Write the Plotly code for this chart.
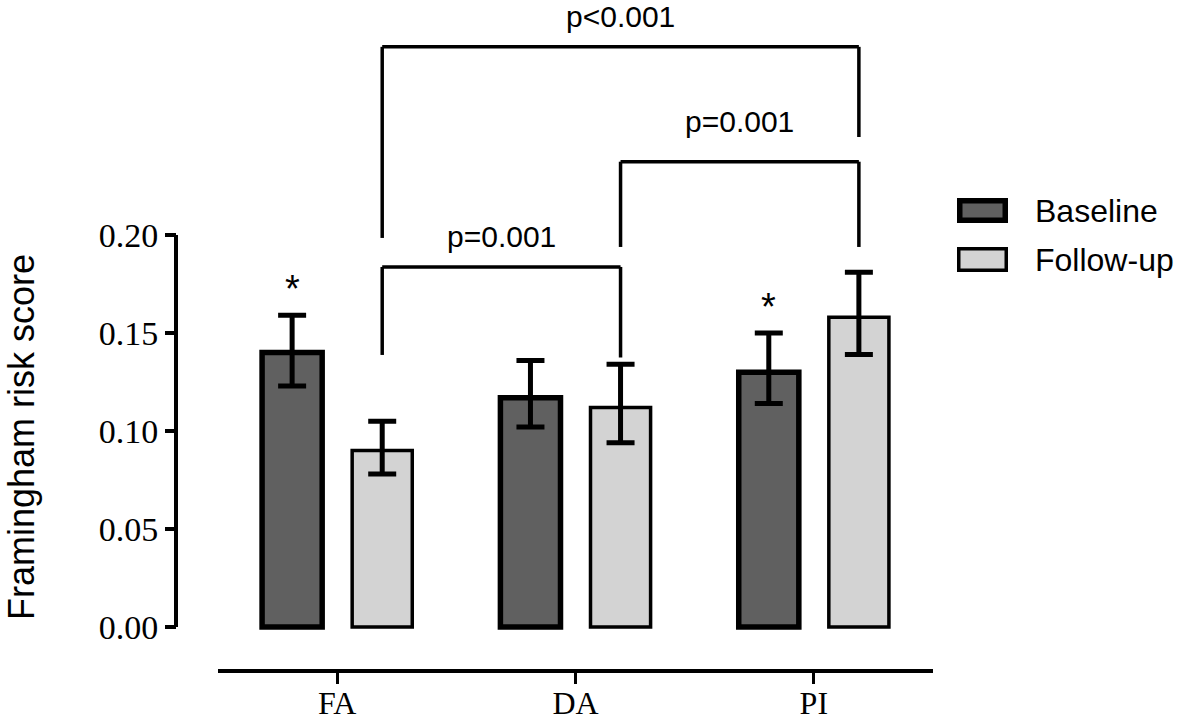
import plotly.graph_objects as go

# ---- data ----
categories = ["FA", "DA", "PI"]
baseline = [0.140, 0.117, 0.130]
baseline_err_plus = [0.019, 0.019, 0.020]
baseline_err_minus = [0.017, 0.015, 0.016]
followup = [0.090, 0.112, 0.158]
followup_err_plus = [0.015, 0.022, 0.023]
followup_err_minus = [0.012, 0.018, 0.019]
star_baseline = [True, False, True]
y_ticks = [0.00, 0.05, 0.10, 0.15, 0.20]

# comparisons between Follow-up bars: (left category, right category, label)
comparisons = [
    ("FA", "DA", "p=0.001"),
    ("DA", "PI", "p=0.001"),
    ("FA", "PI", "p<0.001"),
]

# ---- layout geometry ----
W, H = 1181, 722
ML, MR, MT, MB = 0, 0, 10, 53
PLOT_H = H - MT - MB
BARGAP = 0.244
BARGROUPGAP = 0.333
slot = (1 - BARGAP) / 2
offset = slot / 2  # centre offset of each bar within its category


def px(x):
    return x / W


def py(y):
    return (H - MB - y) / PLOT_H


SANS = "Liberation Sans, Arial, sans-serif"
SERIF = "Liberation Serif, Times New Roman, serif"

fig = go.Figure()
fig.add_trace(go.Bar(
    name="Baseline", x=categories, y=baseline,
    marker=dict(color="#606060", line=dict(color="black", width=5.5)),
    error_y=dict(type="data", symmetric=False, array=baseline_err_plus,
                 arrayminus=baseline_err_minus, color="black", thickness=5, width=14),
    showlegend=False,
))
fig.add_trace(go.Bar(
    name="Follow-up", x=categories, y=followup,
    marker=dict(color="#d3d3d3", line=dict(color="black", width=3.5)),
    error_y=dict(type="data", symmetric=False, array=followup_err_plus,
                 arrayminus=followup_err_minus, color="black", thickness=5, width=14),
    showlegend=False,
))

shapes = []
annotations = []

# y axis line (0 to 0.20 only)
shapes.append(dict(type="line", xref="paper", yref="y", x0=px(176), x1=px(176),
                   y0=y_ticks[0], y1=y_ticks[-1], line=dict(color="black", width=4)))

# significance stars above baseline bars
for i, flag in enumerate(star_baseline):
    if flag:
        annotations.append(dict(
            x=i - offset, y=baseline[i] + baseline_err_plus[i] + 0.0135, xref="x", yref="y",
            text="*", showarrow=False, font=dict(family=SANS, size=38, color="black"),
            yanchor="middle", xanchor="center"))

# brackets
bracket_levels = {
    ("FA", "DA"): (0.1837, 0.1388, 0.1375),
    ("DA", "PI"): (0.2374, 0.1939, 0.1939),
    ("FA", "PI"): (0.2960, 0.1985, 0.2500),
}
label_gap = {("FA", "DA"): 0.0153, ("DA", "PI"): 0.0204, ("FA", "PI"): 0.0153}
for a, b, label in comparisons:
    xa = categories.index(a) + offset
    xb = categories.index(b) + offset
    top, left_end, right_end = bracket_levels[(a, b)]
    ln = dict(color="black", width=3.5)
    shapes.append(dict(type="line", xref="x", yref="y", x0=xa, x1=xa, y0=left_end, y1=top, line=ln))
    shapes.append(dict(type="line", xref="x", yref="y", x0=xa, x1=xb, y0=top, y1=top, line=ln))
    shapes.append(dict(type="line", xref="x", yref="y", x0=xb, x1=xb, y0=right_end, y1=top, line=ln))
    annotations.append(dict(x=(xa + xb) / 2, y=top + label_gap[(a, b)], xref="x", yref="y",
                            text=label, showarrow=False, yanchor="middle",
                            font=dict(family=SANS, size=30, color="black")))

# manual legend
legend_items = [("Baseline", "#606060", 5.5, 198, 223), ("Follow-up", "#d3d3d3", 3.5, 247, 272)]
for name, color, lw, top, bot in legend_items:
    h = lw / 2
    shapes.append(dict(type="rect", xref="paper", yref="paper",
                       x0=px(957 + h), x1=px(1008 - h), y0=py(bot - h), y1=py(top + h),
                       fillcolor=color, line=dict(color="black", width=lw)))
    annotations.append(dict(x=px(1033), y=py((top + bot) / 2), xref="paper", yref="paper",
                            text=name, showarrow=False, xanchor="left", yanchor="middle",
                            font=dict(family=SANS, size=32, color="black")))

# y axis title
annotations.append(dict(x=px(22), y=py(437), xref="paper", yref="paper",
                        text="Framingham risk score", textangle=-90, showarrow=False,
                        xanchor="center", yanchor="middle",
                        font=dict(family=SANS, size=36, color="black")))

y_min = -(669 - 627) / 1960
y_max = (627 - MT) / 1960

fig.update_layout(
    width=W, height=H,
    margin=dict(l=ML, r=MR, t=MT, b=MB, autoexpand=False),
    plot_bgcolor="white", paper_bgcolor="white",
    barmode="group", bargap=BARGAP, bargroupgap=BARGROUPGAP,
    shapes=shapes, annotations=annotations,
    showlegend=False,
    xaxis=dict(
        domain=[px(218), px(933)], range=[-0.5, 2.5], automargin=False,
        showline=True, linecolor="black", linewidth=4,
        ticks="outside", ticklen=11, tickwidth=3, tickcolor="black",
        showgrid=False, zeroline=False, ticklabelstandoff=-8,
        tickfont=dict(family=SERIF, size=32, color="black"),
    ),
    yaxis=dict(
        anchor="free", position=px(176), range=[y_min, y_max], automargin=False,
        tickvals=y_ticks, tickformat=".2f",
        showline=False, showgrid=False, zeroline=False,
        ticks="outside", ticklen=11, tickwidth=4, tickcolor="black",
        tickfont=dict(family=SERIF, size=34, color="black"),
    ),
)

fig.write_html("out.html", config={"displayModeBar": False},
               post_script="document.body.style.margin='0px';")
